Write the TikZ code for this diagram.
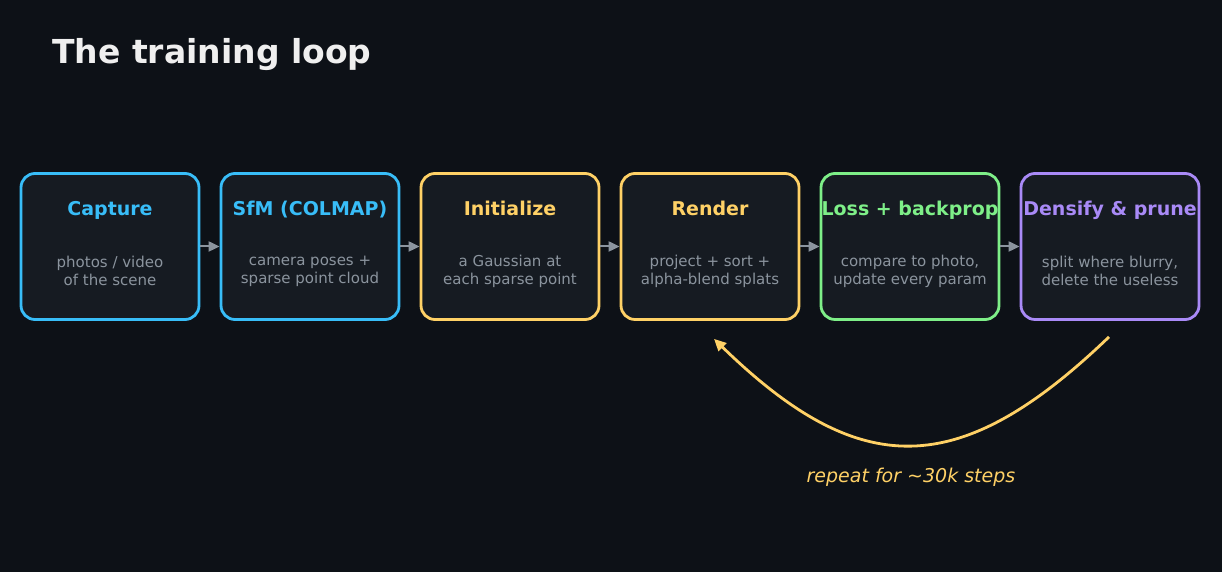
\documentclass[tikz,border=0pt]{standalone}
\usepackage{fontspec}
\setmainfont{DejaVu Sans}
\usetikzlibrary{arrows.meta,positioning}
\definecolor{bgdark}{HTML}{0D1117}
\definecolor{boxfill}{HTML}{161B22}
\definecolor{cblue}{HTML}{38BDF8}
\definecolor{cyellow}{HTML}{FFD166}
\definecolor{cgreen}{HTML}{7EEF88}
\definecolor{cpurple}{HTML}{A98AF7}
\definecolor{subgray}{HTML}{8B949E}
\definecolor{headwhite}{HTML}{EFEFEF}
\tikzset{
  stagebox/.style={draw=#1, fill=boxfill, line width=2.8pt, rounded corners=14pt,
    minimum width=178pt, minimum height=146pt, inner sep=0pt},
  stagetitle/.style={text=#1, font=\fontsize{19}{22}\selectfont\bfseries, anchor=base},
  stagesub/.style={text=subgray, font=\fontsize{15}{18}\selectfont, align=center},
  flow/.style={draw=subgray, line width=2pt, -{Triangle[length=11pt,width=10pt]}},
  loopback/.style={draw=cyellow, line width=2.8pt, -{Triangle[length=12pt,width=11pt]}},
}
\begin{document}
\begin{tikzpicture}[x=1pt, y=1pt]
  % Background
  \fill[bgdark] (0,0) rectangle (1222,572);
  % Heading
  \node[text=headwhite, font=\fontsize{33}{38}\selectfont\bfseries, anchor=base west,
    inner sep=0pt] (heading) at (52,508) {The training loop};
  % Stage boxes
  \node[stagebox=cblue]   (cap)  at (110,325.5) {};
  \node[stagebox=cblue]   (sfm)  at (310,325.5) {};
  \node[stagebox=cyellow] (init) at (510,325.5) {};
  \node[stagebox=cyellow] (rend) at (710,325.5) {};
  \node[stagebox=cgreen]  (loss) at (910,325.5) {};
  \node[stagebox=cpurple] (dens) at (1110,325.5) {};
  % Stage titles
  \node[stagetitle=cblue]   (capT)  at ([yshift=-43pt]cap.north)  {Capture};
  \node[stagetitle=cblue]   (sfmT)  at ([yshift=-43pt]sfm.north)  {SfM (COLMAP)};
  \node[stagetitle=cyellow] (initT) at ([yshift=-43pt]init.north) {Initialize};
  \node[stagetitle=cyellow] (rendT) at ([yshift=-43pt]rend.north) {Render};
  \node[stagetitle=cgreen]  (lossT) at ([yshift=-43pt]loss.north) {Loss + backprop};
  \node[stagetitle=cpurple] (densT) at ([yshift=-43pt]dens.north) {Densify \& prune};
  % Stage descriptions
  \node[stagesub] (capS)  at ([yshift=-24.5pt]cap.center)  {photos / video\\of the scene};
  \node[stagesub] (sfmS)  at ([yshift=-24.5pt]sfm.center)  {camera poses +\\sparse point cloud};
  \node[stagesub] (initS) at ([yshift=-24.5pt]init.center) {a Gaussian at\\each sparse point};
  \node[stagesub] (rendS) at ([yshift=-24.5pt]rend.center) {project + sort +\\alpha-blend splats};
  \node[stagesub] (lossS) at ([yshift=-24.5pt]loss.center) {compare to photo,\\update every param};
  \node[stagesub] (densS) at ([yshift=-24.5pt]dens.center) {split where blurry,\\delete the useless};
  % Forward arrows
  \draw[flow] (cap) -- (sfm);
  \draw[flow] (sfm) -- (init);
  \draw[flow] (init) -- (rend);
  \draw[flow] (rend) -- (loss);
  \draw[flow] (loss) -- (dens);
  % Loop back to render
  \coordinate (loopStart) at ([xshift=-1pt,yshift=-16pt]dens.south);
  \coordinate (loopEnd) at ([xshift=4pt,yshift=-18pt]rend.south);
  \draw[loopback] (loopStart) .. controls +(-150,-144) and +(146,-142) .. (loopEnd);
  \node[text=cyellow, font=\fontsize{19}{22}\selectfont\itshape, anchor=base]
    (repeatLbl) at (911,89) {repeat for {\char126\relax}30k steps};
\end{tikzpicture}
\end{document}
